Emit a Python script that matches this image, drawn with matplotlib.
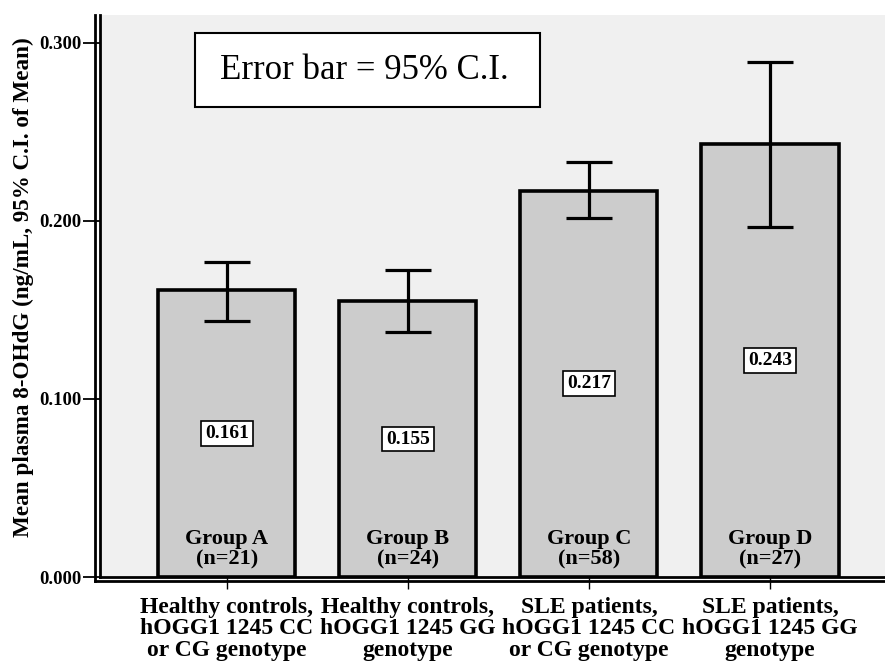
import matplotlib
matplotlib.use("Agg")
import matplotlib.pyplot as plt
from matplotlib.patches import Rectangle
from matplotlib.lines import Line2D

# ---- data ----
categories = ["Healthy controls,\nhOGG1 1245 CC\nor CG genotype",
              "Healthy controls,\nhOGG1 1245 GG\ngenotype",
              "SLE patients,\nhOGG1 1245 CC\nor CG genotype",
              "SLE patients,\nhOGG1 1245 GG\ngenotype"]
groups = ["Group A\n(n=21)", "Group B\n(n=24)", "Group C\n(n=58)", "Group D\n(n=27)"]
means = [0.161, 0.155, 0.217, 0.243]
ci_low = [0.144, 0.1376, 0.2017, 0.1966]
ci_high = [0.177, 0.1725, 0.2331, 0.2893]
yticks = [0.0, 0.1, 0.2, 0.3]
ytick_labels = ["0.000", "0.100", "0.200", "0.300"]
ylabel = "Mean plasma 8-OHdG (ng/mL, 95% C.I. of Mean)"
note = "Error bar = 95% C.I."

plt.rcParams['font.family'] = ['Liberation Serif', 'DejaVu Serif']

fig = plt.figure(figsize=(8.85, 6.61), dpi=100)
ax = fig.add_axes([100/885, 84/661, 785/885, 562/661])
ax.set_facecolor('#f0f0f0')

x = list(range(len(means)))
yerr_lo = [m - l for m, l in zip(means, ci_low)]
yerr_hi = [h - m for m, h in zip(means, ci_high)]

ax.bar(x, means, width=0.757, color='#cccccc', edgecolor='black', linewidth=2.6, zorder=2)
ax.errorbar(x, means, yerr=[yerr_lo, yerr_hi], fmt='none', ecolor='black',
            elinewidth=2.3, capsize=16.5, capthick=2.3, zorder=3)

for xi, m, g in zip(x, means, groups):
    ax.text(xi, m / 2, f"{m:.3f}", ha='center', va='center', fontsize=14, fontweight='bold',
            bbox=dict(boxstyle='square,pad=0.2', facecolor='white', edgecolor='black', linewidth=1.2),
            zorder=4)
    ax.annotate(g, xy=(xi, 0), xytext=(0, 5.5), textcoords='offset points', ha='center', va='bottom',
                fontsize=16, fontweight='bold', linespacing=1.02, zorder=4)

ax.set_xlim(-0.70, 3.635)
ax.set_ylim(0, 0.3157)
ax.set_xticks(x)
ax.set_xticklabels(categories, fontsize=17, fontweight='bold', linespacing=1.04)
ax.set_yticks(yticks)
ax.set_yticklabels(ytick_labels, fontsize=13.5, fontweight='bold')
ax.tick_params(axis='y', direction='out', length=12.3, width=1.3, pad=1)
ax.tick_params(axis='x', direction='out', length=8.6, width=1.0, pad=5.5)

ax.set_ylabel(ylabel, fontsize=16.7, fontweight='bold')
ax.yaxis.set_label_coords(-0.084, 0.516)

for s in ['top', 'right']:
    ax.spines[s].set_visible(False)
ax.spines['left'].set_linewidth(2.0)
ax.spines['bottom'].set_linewidth(2.0)

# double lines for axes
ax.add_line(Line2D([-5.5/785, -5.5/785], [-4/562, 1.0], transform=ax.transAxes,
                   color='black', linewidth=2.0, clip_on=False))
ax.add_line(Line2D([-5.5/785, 1.0], [-4/562, -4/562], transform=ax.transAxes,
                   color='black', linewidth=2.0, clip_on=False))

# note box
ax.add_patch(Rectangle((0.121, 0.836), 0.44, 0.132, transform=ax.transAxes,
                       facecolor='white', edgecolor='black', linewidth=1.5, zorder=5))
ax.text(0.337, 0.902, note, transform=ax.transAxes, ha='center', va='center',
        fontsize=25, zorder=6)

fig.savefig("out.png", dpi=100)
